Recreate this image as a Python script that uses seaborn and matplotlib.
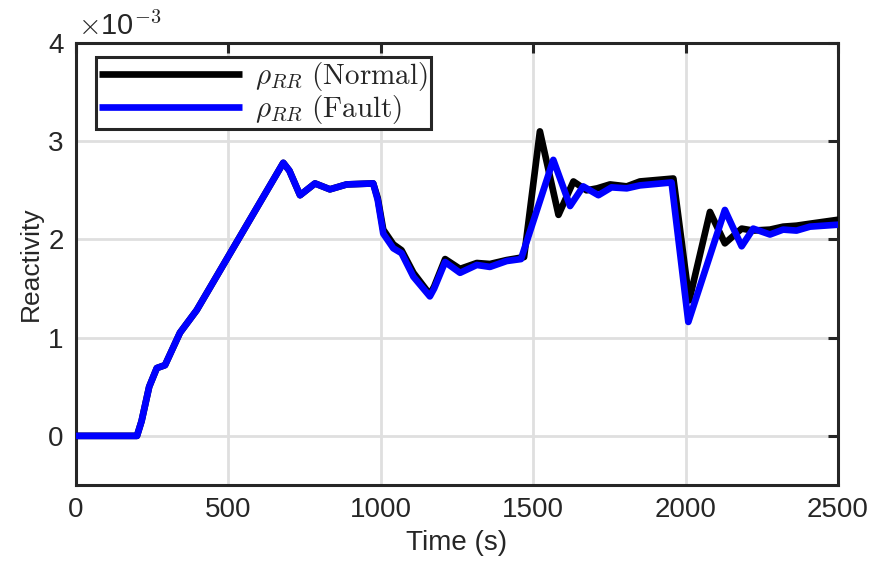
import numpy as np
import pandas as pd
import matplotlib
matplotlib.use("Agg")
import matplotlib.pyplot as plt
import seaborn as sns

# Reactivity values in units of 1e-3
time_normal = [0, 200, 215, 240, 265, 292, 341, 396, 680, 700, 735, 784, 833, 888, 975, 990,
               1008, 1041, 1068, 1107, 1161, 1175, 1211, 1260, 1315, 1358, 1413, 1470,
               1522, 1583, 1632, 1675, 1710, 1752, 1807, 1850, 1960, 2012, 2080, 2129,
               2184, 2222, 2277, 2320, 2364, 2408, 2500]
rho_normal = [0, 0, 0.15, 0.5, 0.69, 0.72, 1.05, 1.28, 2.78, 2.70, 2.45, 2.57, 2.51, 2.56, 2.57, 2.42,
              2.10, 1.95, 1.89, 1.66, 1.44, 1.52, 1.80, 1.70, 1.76, 1.75, 1.79, 1.82,
              3.10, 2.25, 2.59, 2.50, 2.52, 2.56, 2.54, 2.59, 2.62, 1.38, 2.28, 1.96,
              2.11, 2.09, 2.10, 2.13, 2.14, 2.16, 2.20]

time_fault = [0, 200, 215, 240, 265, 292, 341, 396, 680, 700, 735, 784, 833, 888, 975, 990,
              1008, 1041, 1068, 1107, 1161, 1175, 1211, 1260, 1315, 1358, 1413, 1460,
              1566, 1621, 1664, 1714, 1757, 1807, 1850, 1954, 2009, 2129, 2184, 2222,
              2277, 2320, 2364, 2408, 2500]
rho_fault = [0, 0, 0.15, 0.5, 0.69, 0.72, 1.05, 1.28, 2.78, 2.70, 2.45, 2.57, 2.51, 2.56, 2.57, 2.40,
             2.06, 1.91, 1.86, 1.62, 1.42, 1.50, 1.77, 1.66, 1.74, 1.72, 1.78, 1.80,
             2.81, 2.34, 2.54, 2.45, 2.53, 2.52, 2.55, 2.58, 1.16, 2.30, 1.93, 2.11,
             2.05, 2.10, 2.09, 2.13, 2.15]

x_ticks = [0, 500, 1000, 1500, 2000, 2500]
y_ticks = [0, 1, 2, 3, 4]

label_normal = r'$\rho_{RR}\ \mathrm{(Normal)}$'
label_fault = r'$\rho_{RR}\ \mathrm{(Fault)}$'

sns.set_style("white")
plt.rcParams['font.family'] = ['Liberation Sans', 'DejaVu Sans']
plt.rcParams['mathtext.fontset'] = 'cm'

fig = plt.figure(figsize=(8.78, 5.61), dpi=100)
ax = fig.add_axes([0.0866, 0.1355, 0.9544 - 0.0866, 0.9234 - 0.1355])

df_n = pd.DataFrame({"t": time_normal, "rho": rho_normal})
df_f = pd.DataFrame({"t": time_fault, "rho": rho_fault})
sns.lineplot(data=df_n, x="t", y="rho", ax=ax, color="black", lw=4.8, label=label_normal,
             zorder=3, sort=False, solid_joinstyle="round", solid_capstyle="round")
sns.lineplot(data=df_f, x="t", y="rho", ax=ax, color="#0000ff", lw=4.8, label=label_fault,
             zorder=4, sort=False, solid_joinstyle="round", solid_capstyle="round")

ax.set_xlim(0, 2500)
ax.set_ylim(-0.5, 4)
ax.set_xticks(x_ticks)
ax.set_yticks(y_ticks)
ax.grid(True, color="#dfdfdf", lw=2.0)
ax.set_axisbelow(True)
for s in ax.spines.values():
    s.set_color("#262626")
    s.set_linewidth(2.2)
ax.tick_params(direction="in", length=7, width=2.2, color="#262626",
               top=True, right=True, labelsize=20, labelcolor="#262626", pad=9)
ax.set_xlabel("Time (s)", fontsize=20, color="#262626", labelpad=5)
ax.set_ylabel("Reactivity", fontsize=19, color="#262626", labelpad=4)

ax.text(0.003, 1.004, r'$\times$10$^{\mathsf{-3}}$', transform=ax.transAxes, fontsize=21,
        color="#262626", ha="left", va="bottom")

leg = ax.legend(loc="upper left", bbox_to_anchor=(0.026, 0.968), borderaxespad=0,
                fontsize=21, frameon=True, fancybox=False, handlelength=4.9,
                handletextpad=0.45, labelspacing=0.0, borderpad=0.1)
leg.get_frame().set_edgecolor("#262626")
leg.get_frame().set_linewidth(2.2)
leg.get_frame().set_alpha(1)
for line in leg.get_lines():
    line.set_linewidth(4.8)
    line.set_solid_capstyle("butt")

fig.savefig("out.png", dpi=100)
